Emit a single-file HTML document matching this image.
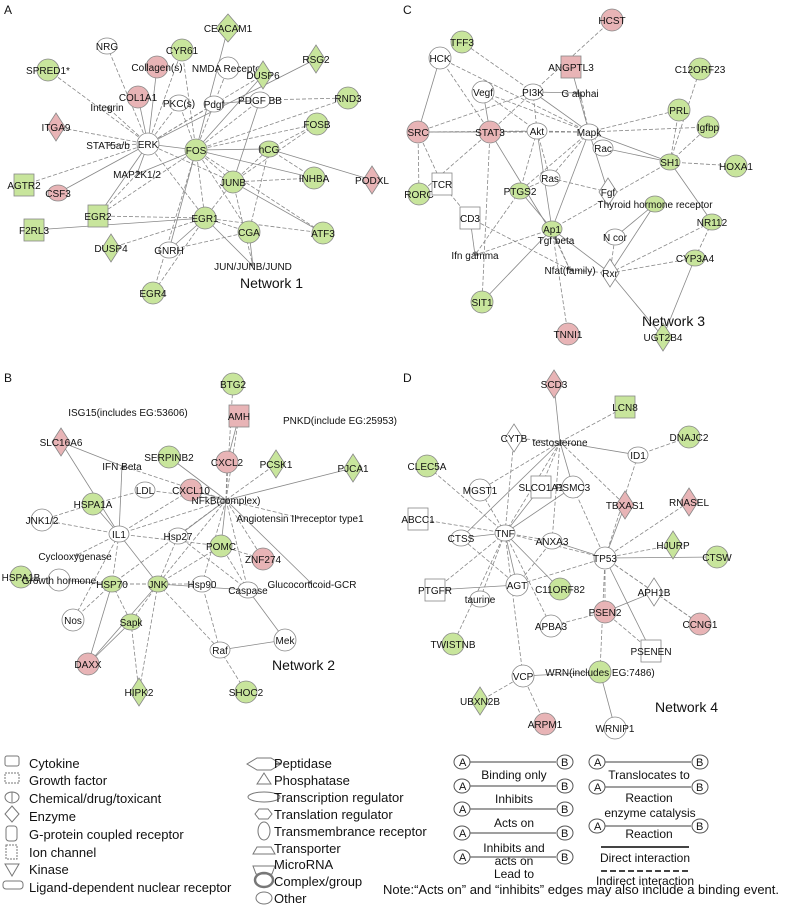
<!DOCTYPE html>
<html><head><meta charset="utf-8"><style>
html,body{margin:0;padding:0;background:#fff}
svg{display:block;font-family:"Liberation Sans",sans-serif}
</style></head><body>
<svg id="fig" width="793" height="905" viewBox="0 0 793 905">
<defs><marker id="ar" viewBox="0 0 6 6" refX="5" refY="3" markerWidth="5" markerHeight="5" orient="auto"><path d="M0,0L6,3L0,6z" fill="#777"/></marker></defs>
<g id="edges"></g>
<g id="nodes"></g>
<g font-size="12" fill="#111">
<text x="4" y="14">A</text>
<text x="403" y="14">C</text>
<text x="4" y="382">B</text>
<text x="403" y="382">D</text>
</g>
<g font-size="14" fill="#111">
<text x="240" y="288">Network 1</text>
<text x="642" y="326">Network 3</text>
<text x="272" y="670">Network 2</text>
<text x="655" y="712">Network 4</text>
</g>
<g id="legend" font-size="13" fill="#111" stroke-width="1">
<g stroke="#777" fill="none">
<rect x="5" y="756" width="14" height="10" rx="2"/>
<rect x="5" y="773" width="14" height="10" stroke-dasharray="2,1"/>
<path d="M5,797a6,5 0 0 0 14,0a7,5 0 0 0 -14,0M12,792v10"/>
<path d="M12,806l7,8l-7,8l-7,-8z"/>
<rect x="6" y="826" width="11" height="15" rx="3"/>
<rect x="6" y="845" width="11" height="14" stroke-dasharray="2,1"/>
<path d="M5,864h14l-7,12z"/>
<rect x="3" y="881" width="20" height="8" rx="3"/>
<path d="M247,764l10,-6h14l10,6l-10,6h-14z"/>
<path d="M257,784l7,-11l7,11z"/>
<ellipse cx="264" cy="797" rx="16" ry="5"/>
<path d="M259,809h9l4,5l-4,5h-9l-4,-5z"/>
<ellipse cx="264" cy="831" rx="6" ry="9"/>
<path d="M253,854l4,-7h14l4,7z"/>
<path d="M253,866h22l-3,8h-16z"/>
<ellipse cx="264" cy="880" rx="9" ry="7" stroke-width="2.5"/>
<ellipse cx="264" cy="898" rx="8" ry="6"/>
</g>
<text x="29" y="768">Cytokine</text>
<text x="29" y="785">Growth factor</text>
<text x="29" y="803">Chemical/drug/toxicant</text>
<text x="29" y="821">Enzyme</text>
<text x="29" y="839">G-protein coupled receptor</text>
<text x="29" y="857">Ion channel</text>
<text x="29" y="874">Kinase</text>
<text x="29" y="892">Ligand-dependent nuclear receptor</text>
<text x="274" y="768">Peptidase</text>
<text x="274" y="785">Phosphatase</text>
<text x="274" y="802">Transcription regulator</text>
<text x="274" y="819">Translation regulator</text>
<text x="274" y="836">Transmembrance receptor</text>
<text x="274" y="853">Transporter</text>
<text x="274" y="869">MicroRNA</text>
<text x="274" y="886">Complex/group</text>
<text x="274" y="903">Other</text>
<g id="edgeleg" font-size="12"></g>
<text x="383" y="894">Note:“Acts on” and “inhibits” edges may also include a binding event.</text>
</g>
</svg>
<script>
const nodeIds=["CEACAM1","CYR61","NRG","Collagen(s)","NMDA Receptor","DUSP6","RSG2","SPRED1*","RND3","COL1A1","PKC(s)","Pdgf","PDGF BB","Integrin","ITGA9","FOSB","ERK","FOS","hCG","STAT5a/b","AGTR2","CSF3","MAP2K1/2","JUNB","INHBA","PODXL","EGR2","F2RL3","EGR1","CGA","ATF3","DUSP4","GNRH","JUN/JUNB/JUND","EGR4",
"HCST","TFF3","HCK","ANGPTL3","C12ORF23","Vegf","PI3K","G alphai","PRL","Igfbp","SRC","STAT3","Akt","Mapk","Rac","SH1","HOXA1","RORC","TCR","Ras","PTGS2","Fgf","Thyroid hormone receptor","NR112","CD3","Ap1","Tgf beta","N cor","Ifn gamma","CYP3A4","Nfat(family)","Rxr","SIT1","TNNI1","UGT2B4",
"BTG2","AMH","ISG15(includes EG:53606)","PNKD(include EG:25953)","SLC16A6","SERPINB2","IFN Beta","CXCL2","PCSK1","PJCA1","LDL","CXCL10","NFkB(complex)","Angiotensin II receptor type1","HSPA1A","JNK1/2","IL1","Hsp27","POMC","Cyclooxygenase","ZNF274","HSPA1B","Growth hormone","HSP70","JNK","Hsp90","Caspase","Glucocorticoid-GCR","Nos","Sapk","Raf","Mek","DAXX","HIPK2","SHOC2",
"SCD3","LCN8","CYTB","testosterone","ID1","DNAJC2","MGST1","SLCO1A1","PSMC3","CLEC5A","ABCC1","TBXAS1","RNASEL","TNF","ANXA3","CTSS","TP53","HJURP","CTSW","PTGFR","AGT","C11ORF82","APH1B","taurine","PSEN2","CCNG1","APBA3","PSENEN","TWISTNB","WRN(includes EG:7486)","VCP","UBXN2B","ARPM1","WRNIP1"];
const nodeX=[228,182,107,157,228,263,316,48,348,138,179,214,260,107,56,317,148,196,269,108,24,58,137,233,314,372,98,34,205,249,323,111,169,253,153,
612,462,440,571,700,483,533,580,679,708,418,490,537,589,603,670,736,419,442,550,520,608,655,712,470,552,556,615,475,695,570,610,482,568,663,
233,239,128,340,61,169,122,227,276,353,145,191,226,300,93,42,119,178,221,75,263,21,59,112,158,202,248,312,73,131,220,285,88,139,246,
554,625,514,560,638,689,480,541,573,427,418,625,689,505,552,461,605,673,717,435,517,560,654,480,605,700,551,651,453,600,523,480,545,615];
const nodeY=[28,50,46,67,68,75,59,70,98,97,103,104,100,107,127,124,144,150,149,145,185,193,174,182,178,180,216,230,218,232,233,248,250,266,293,
20,42,58,67,69,92,92,93,110,127,132,132,131,132,148,162,166,194,184,178,191,192,204,222,218,229,240,237,255,258,270,273,302,334,337,
384,416,412,420,442,457,466,462,464,468,490,490,500,518,504,520,534,536,546,556,559,577,580,584,584,584,590,584,620,622,650,640,664,692,692,
384,407,438,442,455,437,490,487,487,466,519,505,502,533,541,538,558,545,557,590,585,589,592,599,612,624,626,651,644,672,676,701,724,728];
const nodeColor="GGwPwGGGGPwwwwPGwGGwGPwGGPGGGGGGwwG"+"PGwPGwwwGGPPwwwGGGwwGwGGwGwwwGwwGPG"+"GPwwPGwPGGwPwwGwwwGwPGwGGwwwwGwwPGG"+"PGwwwGwwwGwPPwwwwGGwwGwwPPwwGGwGPw";
const nodeShape="hcnccddcccnnnndcccnnrnnccdrrcccdnnc"+"cccrccnnccccnnnnccrnndnnrnnnnnndccd"+"crnndcncddncnnccnncncccnnnnncnnccdc"+"drdnnccrccrddnnncdcrccdncccrcccdcccd";
const edgePairs=[
["ERK","FOS"],["ERK","JUNB"],["ERK","EGR1"],["ERK","MAP2K1/2"],["ERK","STAT5a/b"],["ERK","Integrin"],["ERK","COL1A1"],["ERK","PKC(s)"],["ERK","Pdgf"],["ERK","CSF3"],["ERK","AGTR2"],["ERK","ITGA9"],["ERK","EGR2"],["ERK","DUSP6"],["ERK","SPRED1*"],["ERK","RSG2"],["ERK","CYR61"],["ERK","NRG"],["ERK","Collagen(s)"],
["FOS","JUNB"],["FOS","EGR1"],["FOS","hCG"],["FOS","CGA"],["FOS","PDGF BB"],["FOS","CEACAM1"],["FOS","NMDA Receptor"],["FOS","PKC(s)"],["FOS","INHBA"],["FOS","ATF3"],["FOS","FOSB"],["FOS","DUSP6"],["FOS","EGR2"],["FOS","CYR61"],["FOS","GNRH"],["FOS","EGR4"],["FOS","RND3"],["FOS","MAP2K1/2"],
["JUNB","EGR1"],["JUNB","hCG"],["JUNB","ATF3"],["JUNB","INHBA"],["JUNB","JUN/JUNB/JUND"],["JUNB","PDGF BB"],["JUNB","FOSB"],["EGR1","CGA"],["EGR1","GNRH"],["EGR1","EGR2"],["EGR1","EGR4"],["EGR1","F2RL3"],["EGR1","DUSP4"],["EGR1","ATF3"],["EGR1","JUN/JUNB/JUND"],["hCG","CGA"],["hCG","INHBA"],["hCG","PODXL"],["hCG","FOSB"],["PDGF BB","RND3"],["PDGF BB","Pdgf"],["GNRH","CGA"],["MAP2K1/2","EGR2"],["JUN/JUNB/JUND","CGA"],
["Mapk","STAT3"],["Mapk","Akt"],["Mapk","PI3K"],["Mapk","SRC"],["Mapk","Ras"],["Mapk","Ap1"],["Mapk","PTGS2"],["Mapk","PRL"],["Mapk","SH1"],["Mapk","G alphai"],["Mapk","Rac"],["Mapk","Fgf"],["Mapk","Vegf"],["Mapk","HCK"],["Mapk","ANGPTL3"],["Mapk","Igfbp"],
["Akt","PI3K"],["Akt","STAT3"],["Akt","SRC"],["Akt","Ras"],["Akt","Ap1"],["Akt","PTGS2"],["Akt","Vegf"],["STAT3","SRC"],["STAT3","RORC"],["STAT3","HCK"],["STAT3","Vegf"],["STAT3","PI3K"],["STAT3","SIT1"],["STAT3","Tgf beta"],["SRC","TCR"],["SRC","RORC"],["SRC","HCK"],["SRC","PI3K"],["TCR","CD3"],["CD3","Ifn gamma"],["CD3","Nfat(family)"],["Ap1","Nfat(family)"],["Ap1","PTGS2"],["Ap1","Tgf beta"],["Ap1","TNNI1"],["Ap1","Rxr"],["Ap1","SH1"],["Ap1","Ifn gamma"],["Ap1","SIT1"],["Ras","PTGS2"],["Rxr","N cor"],["Rxr","Thyroid hormone receptor"],["Rxr","NR112"],["Rxr","CYP3A4"],["Rxr","UGT2B4"],["Rxr","Nfat(family)"],["NR112","CYP3A4"],["NR112","SH1"],["SH1","HOXA1"],["SH1","PRL"],["SH1","Rac"],["SH1","C12ORF23"],["SH1","Igfbp"],["Thyroid hormone receptor","N cor"],["PI3K","HCST"],["PI3K","TFF3"],["PI3K","G alphai"],["Nfat(family)","Tgf beta"],["PTGS2","Ifn gamma"],["CYP3A4","UGT2B4"],["Fgf","Ras"],
["NFkB(complex)","CXCL2"],["NFkB(complex)","CXCL10"],["NFkB(complex)","LDL"],["NFkB(complex)","IL1"],["NFkB(complex)","POMC"],["NFkB(complex)","JNK"],["NFkB(complex)","HSP70"],["NFkB(complex)","Hsp27"],["NFkB(complex)","Angiotensin II receptor type1"],["NFkB(complex)","PCSK1"],["NFkB(complex)","PJCA1"],["NFkB(complex)","AMH"],["NFkB(complex)","IFN Beta"],["NFkB(complex)","SERPINB2"],["NFkB(complex)","ZNF274"],["NFkB(complex)","Caspase"],["NFkB(complex)","Glucocorticoid-GCR"],["NFkB(complex)","Hsp90"],["NFkB(complex)","BTG2"],
["IL1","HSPA1A"],["IL1","JNK1/2"],["IL1","HSP70"],["IL1","JNK"],["IL1","Cyclooxygenase"],["IL1","CXCL10"],["IL1","IFN Beta"],["IL1","Nos"],["IL1","POMC"],["IL1","SLC16A6"],["HSP70","JNK"],["HSP70","HSPA1B"],["HSP70","Growth hormone"],["HSP70","Sapk"],["HSP70","Nos"],["HSP70","DAXX"],["HSP70","Hsp90"],["JNK","Sapk"],["JNK","DAXX"],["JNK","HIPK2"],["JNK","Raf"],["JNK","Caspase"],["JNK","POMC"],["JNK","Hsp27"],["Raf","Mek"],["Raf","SHOC2"],["Raf","Hsp90"],["Mek","Caspase"],["POMC","Caspase"],["POMC","ZNF274"],["Sapk","DAXX"],["Sapk","HIPK2"],["Hsp27","Caspase"],["CXCL2","AMH"],["LDL","HSPA1A"],["JNK1/2","HSPA1A"],["IFN Beta","SLC16A6"],
["TNF","testosterone"],["TNF","MGST1"],["TNF","SLCO1A1"],["TNF","CLEC5A"],["TNF","ABCC1"],["TNF","CTSS"],["TNF","PTGFR"],["TNF","TWISTNB"],["TNF","AGT"],["TNF","ANXA3"],["TNF","TP53"],["TNF","C11ORF82"],["TNF","APBA3"],["TNF","CYTB"],["TNF","PSMC3"],["TNF","taurine"],["TNF","VCP"],
["testosterone","SCD3"],["testosterone","LCN8"],["testosterone","CYTB"],["testosterone","ID1"],["testosterone","MGST1"],["testosterone","SLCO1A1"],["testosterone","PSMC3"],["testosterone","TBXAS1"],["testosterone","ANXA3"],["testosterone","CTSS"],["ID1","DNAJC2"],["ID1","TP53"],
["TP53","TBXAS1"],["TP53","RNASEL"],["TP53","HJURP"],["TP53","CTSW"],["TP53","APH1B"],["TP53","PSEN2"],["TP53","PSENEN"],["TP53","WRN(includes EG:7486)"],["TP53","AGT"],["TP53","ANXA3"],["TP53","PSMC3"],["TP53","CCNG1"],["AGT","PTGFR"],["AGT","CTSS"],["AGT","ANXA3"],["PSEN2","APH1B"],["PSEN2","PSENEN"],["PSEN2","APBA3"],["VCP","WRN(includes EG:7486)"],["VCP","UBXN2B"],["VCP","ARPM1"],["WRN(includes EG:7486)","WRNIP1"],["APH1B","CCNG1"]];
const NS="http://www.w3.org/2000/svg";
const E=document.getElementById('edges'),N=document.getElementById('nodes');
function mk(t,a,p){const e=document.createElementNS(NS,t);for(const k in a)e.setAttribute(k,a[k]);p.appendChild(e);return e;}
const idx={};nodeIds.forEach((n,i)=>idx[n]=i);
edgePairs.forEach((p,k)=>{const a=idx[p[0]],b=idx[p[1]];
 const l=mk('line',{x1:nodeX[a],y1:nodeY[a],x2:nodeX[b],y2:nodeY[b],stroke:'#888','stroke-width':0.8,'stroke-dasharray':k%3==0?'':'4,2','marker-end':'url(#ar)'},E);
 
 
});
const fillOf={G:'#c8e59c',P:'#e8b4b6',w:'#fff'};
nodeIds.forEach((n,i)=>{const x=nodeX[i],y=nodeY[i],f=fillOf[nodeColor[i]]||'#fff',s=nodeShape[i];
 const g=mk('g',{},N);
 
 
 const st={fill:f,stroke:'#888','stroke-width':0.8};
 if(s=='c')mk('circle',Object.assign({cx:x,cy:y,r:11},st),g);
 else if(s=='d')mk('path',Object.assign({d:`M${x},${y-14}L${x+9},${y}L${x},${y+14}L${x-9},${y}Z`},st),g);
 else if(s=='r')mk('rect',Object.assign({x:x-10,y:y-11,width:20,height:22},st),g);
 else if(s=='h')mk('path',Object.assign({d:`M${x-12},${y}L${x},${y-14}L${x+12},${y}L${x},${y+14}Z`},st),g);
 else if(f!='#fff'||n.length<8)mk('ellipse',Object.assign({cx:x,cy:y,rx:10,ry:8},st),g);
 const t=mk('text',{x:x,y:y+4,'text-anchor':'middle','font-size':10,fill:'#111'},g);t.textContent=n;
});
// edge-type legend
const L=document.getElementById('edgeleg');
function ab(x,y,label,ly,end){mk('ellipse',{cx:x,cy:y,rx:8,ry:7,fill:'#fff',stroke:'#555'},L);mk('ellipse',{cx:x+103,cy:y,rx:8,ry:7,fill:'#fff',stroke:'#555'},L);
 mk('line',{x1:x+8,y1:y,x2:x+94,y2:y,stroke:'#666','stroke-width':1.2},L);
 let t=mk('text',{x:x-3,y:y+4,'font-size':11},L);t.textContent='A';t=mk('text',{x:x+99,y:y+4,'font-size':11},L);t.textContent='B';
 if(label){t=mk('text',{x:x+52,y:ly,'text-anchor':'middle','font-size':12},L);t.textContent=label;}}
ab(462,762,'Binding only',779);ab(462,786,'Inhibits',803);ab(462,809,'Acts on',827);ab(462,833,'Inhibits and',852);ab(462,857,'Lead to',878);
let tt=mk('text',{x:514,y:865,'text-anchor':'middle','font-size':12},L);tt.textContent='acts on';
ab(597,762,'Translocates to',779);ab(597,787,'Reaction',802);ab(597,826,'Reaction',838);
tt=mk('text',{x:650,y:817,'text-anchor':'middle','font-size':12},L);tt.textContent='enzyme catalysis';
mk('line',{x1:601,y1:847,x2:689,y2:847,stroke:'#444','stroke-width':2},L);
mk('line',{x1:601,y1:871,x2:689,y2:871,stroke:'#444','stroke-width':2,'stroke-dasharray':'6,3'},L);
tt=mk('text',{x:645,y:862,'text-anchor':'middle','font-size':12},L);tt.textContent='Direct interaction';
tt=mk('text',{x:645,y:885,'text-anchor':'middle','font-size':12},L);tt.textContent='Indirect interaction';
</script>
</body></html>
